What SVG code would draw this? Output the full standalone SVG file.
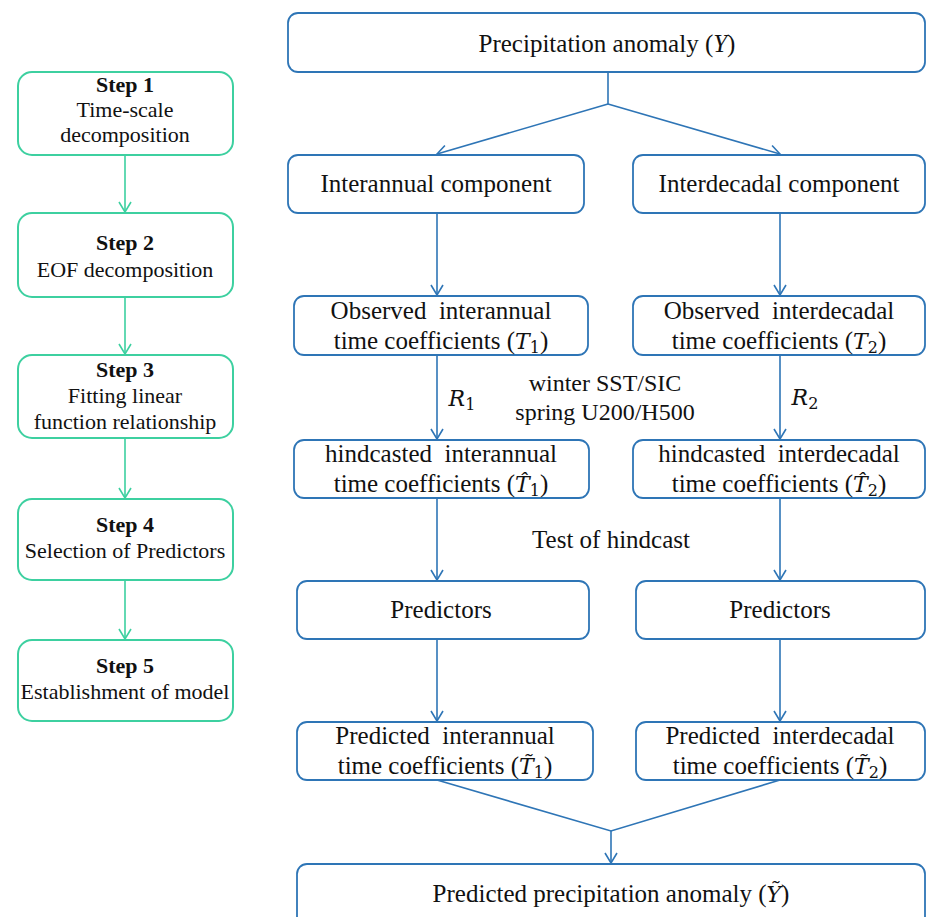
<svg xmlns="http://www.w3.org/2000/svg" width="927" height="917" viewBox="0 0 927 917">
<defs>
<style>
.bb{fill:#fff;stroke:#2e75b6;stroke-width:1.8}
.gb{fill:#fff;stroke:#3dd0a0;stroke-width:2}
.bl{fill:none;stroke:#2e75b6;stroke-width:1.6}
.gl{fill:none;stroke:#3dd0a0;stroke-width:1.6}
.t{font-family:"Liberation Serif","Times New Roman",serif;font-size:25px;fill:#111;text-anchor:middle;white-space:pre}
.s{font-size:22px}
.b{font-weight:bold}
.m{font-family:"DejaVu Serif",serif;font-style:italic;font-size:22px}
.sub{font-family:"DejaVu Serif",serif;font-size:16px;font-style:normal}
</style>
<marker id="ab" viewBox="-12 -7 13 14" refX="0" refY="0" markerWidth="13" markerHeight="14" markerUnits="userSpaceOnUse" orient="auto">
<path d="M-10,-6 L0,0 L-10,6" fill="none" stroke="#2e75b6" stroke-width="1.6"/>
</marker>
<marker id="ag" viewBox="-12 -7 13 14" refX="0" refY="0" markerWidth="13" markerHeight="14" markerUnits="userSpaceOnUse" orient="auto">
<path d="M-10,-6 L0,0 L-10,6" fill="none" stroke="#3dd0a0" stroke-width="1.6"/>
</marker>
</defs>
<rect width="927" height="917" fill="#fff"/>

<g id="connectors">
<path class="gl" d="M125,155 V212" marker-end="url(#ag)"/>
<path class="gl" d="M125,297 V354" marker-end="url(#ag)"/>
<path class="gl" d="M125,438 V498" marker-end="url(#ag)"/>
<path class="gl" d="M125,580 V639" marker-end="url(#ag)"/>
<path class="bl" d="M608,72 V104"/>
<path class="bl" d="M608,104 L437,154" marker-end="url(#ab)"/>
<path class="bl" d="M608,104 L780,154" marker-end="url(#ab)"/>
<path class="bl" d="M437,213 V295" marker-end="url(#ab)"/>
<path class="bl" d="M780,213 V295" marker-end="url(#ab)"/>
<path class="bl" d="M437,355 V439" marker-end="url(#ab)"/>
<path class="bl" d="M780,355 V439" marker-end="url(#ab)"/>
<path class="bl" d="M437,498 V580" marker-end="url(#ab)"/>
<path class="bl" d="M780,498 V580" marker-end="url(#ab)"/>
<path class="bl" d="M437,639 V721" marker-end="url(#ab)"/>
<path class="bl" d="M780,639 V721" marker-end="url(#ab)"/>
<path class="bl" d="M437,780 L611,831 L780,780"/>
<path class="bl" d="M611,831 V863" marker-end="url(#ab)"/>
</g>

<g id="step1"><rect class="gb" x="18" y="72" width="215" height="83" rx="14"/>
<text class="t s b" x="125" y="92">Step 1</text>
<text class="t s" x="125" y="117">Time-scale</text>
<text class="t s" x="125" y="142">decomposition</text></g>
<g id="step2"><rect class="gb" x="18" y="213" width="215" height="84" rx="14"/>
<text class="t s b" x="125" y="250">Step 2</text>
<text class="t s" x="125" y="277">EOF decomposition</text></g>
<g id="step3"><rect class="gb" x="18" y="355" width="215" height="83" rx="14"/>
<text class="t s b" x="125" y="377">Step 3</text>
<text class="t s" x="125" y="403">Fitting linear</text>
<text class="t s" x="125" y="429">function relationship</text></g>
<g id="step4"><rect class="gb" x="18" y="499" width="215" height="81" rx="14"/>
<text class="t s b" x="125" y="532">Step 4</text>
<text class="t s" x="125" y="558">Selection of Predictors</text></g>
<g id="step5"><rect class="gb" x="18" y="640" width="215" height="81" rx="14"/>
<text class="t s b" x="125" y="673">Step 5</text>
<text class="t s" x="125" y="699">Establishment of model</text></g>

<g id="precip"><rect class="bb" x="288" y="13" width="637" height="59" rx="10"/>
<text class="t" x="607" y="52">Precipitation anomaly (<tspan class="m" style="font-family:'Liberation Serif',serif;font-size:25px">Y</tspan>)</text></g>
<g id="interannual"><rect class="bb" x="288" y="155" width="296" height="58" rx="10"/>
<text class="t" x="436" y="192">Interannual component</text></g>
<g id="interdecadal"><rect class="bb" x="633" y="155" width="292" height="58" rx="10"/>
<text class="t" x="779" y="192">Interdecadal component</text></g>

<g id="obsA"><rect class="bb" x="294" y="296" width="294" height="59" rx="10"/>
<text class="t" x="441" y="319">Observed  interannual</text>
<text class="t" x="441" y="349">time coefficients (<tspan class="m">T</tspan><tspan class="sub" dy="4">1</tspan><tspan dy="-4">)</tspan></text></g>
<g id="obsD"><rect class="bb" x="633" y="296" width="292" height="59" rx="10"/>
<text class="t" x="779" y="319">Observed  interdecadal</text>
<text class="t" x="779" y="349">time coefficients (<tspan class="m">T</tspan><tspan class="sub" dy="4">2</tspan><tspan dy="-4">)</tspan></text></g>

<g id="labels">
<text class="t" x="462" y="406"><tspan class="m">R</tspan><tspan class="sub" dy="4">1</tspan></text>
<text class="t" x="805" y="405"><tspan class="m">R</tspan><tspan class="sub" dy="4">2</tspan></text>
<text class="t" x="605" y="391" style="font-size:24px">winter SST/SIC</text>
<text class="t" x="605" y="420" style="font-size:24px">spring U200/H500</text>
<text class="t" x="611" y="548">Test of hindcast</text>
</g>

<g id="hinA"><rect class="bb" x="294" y="440" width="295" height="58" rx="10"/>
<text class="t" x="441" y="462">hindcasted  interannual</text>
<text class="t" x="441" y="492">time coefficients (<tspan class="m">T&#x302;</tspan><tspan class="sub" dy="4">1</tspan><tspan dy="-4">)</tspan></text></g>
<g id="hinD"><rect class="bb" x="633" y="440" width="292" height="58" rx="10"/>
<text class="t" x="779" y="462">hindcasted  interdecadal</text>
<text class="t" x="779" y="492">time coefficients (<tspan class="m">T&#x302;</tspan><tspan class="sub" dy="4">2</tspan><tspan dy="-4">)</tspan></text></g>

<g id="predA"><rect class="bb" x="297" y="581" width="292" height="58" rx="10"/>
<text class="t" x="441" y="618">Predictors</text></g>
<g id="predD"><rect class="bb" x="636" y="581" width="289" height="58" rx="10"/>
<text class="t" x="780" y="618">Predictors</text></g>

<g id="pdA"><rect class="bb" x="297" y="722" width="296" height="58" rx="10"/>
<text class="t" x="445" y="744">Predicted  interannual</text>
<text class="t" x="445" y="774">time coefficients (<tspan class="m">T&#x303;</tspan><tspan class="sub" dy="4">1</tspan><tspan dy="-4">)</tspan></text></g>
<g id="pdD"><rect class="bb" x="636" y="722" width="289" height="58" rx="10"/>
<text class="t" x="780" y="744">Predicted  interdecadal</text>
<text class="t" x="780" y="774">time coefficients (<tspan class="m">T&#x303;</tspan><tspan class="sub" dy="4">2</tspan><tspan dy="-4">)</tspan></text></g>

<g id="final"><rect class="bb" x="297" y="864" width="628" height="75" rx="10"/>
<text class="t" x="611" y="902">Predicted precipitation anomaly (<tspan class="m">Y&#x303;</tspan>)</text></g>
</svg>
